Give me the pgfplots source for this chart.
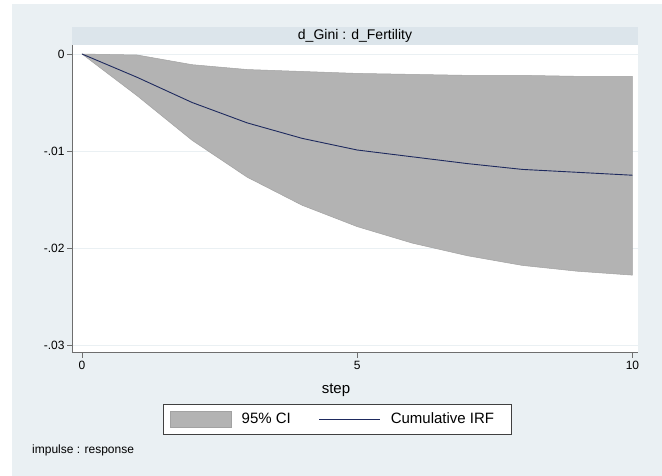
\documentclass[border=0pt]{standalone}
\usepackage{pgfplots}
\pgfplotsset{compat=1.18}
\usepackage{fontspec}
\setmainfont{Liberation Sans}
\definecolor{bg}{HTML}{EAF0F3}
\definecolor{band}{HTML}{DCE5EB}
\definecolor{cifill}{HTML}{B3B3B3}
\definecolor{cidraw}{HTML}{A2A2A2}
\definecolor{irfline}{HTML}{1E2A5E}
\definecolor{axgray}{HTML}{6E6E6E}
\begin{document}
\begin{tikzpicture}
\path[use as bounding box] (0pt,0pt) rectangle (662pt,476pt);
\fill[bg] (12pt,0pt) rectangle (662pt,472pt);
\fill[band] (72pt,431pt) rectangle (638pt,449pt);
\node[anchor=center] at (355pt,440pt) {\fontsize{14}{15}\selectfont d\_Gini : d\_Fertility};
\node[anchor=west, inner sep=0pt] at (32pt,26pt) {\fontsize{12}{13}\selectfont impulse : response};
\begin{axis}[
  at={(72pt,123.3pt)}, anchor=south west,
  scale only axis, width=566pt, height=307.7pt,
  axis background/.style={fill=white},
  axis x line*=bottom, axis y line*=left,
  axis line style={axgray, line width=0.7pt},
  xmin=-0.182, xmax=10.1,
  ymin=-0.0308, ymax=0.00093,
  scaled y ticks=false, scaled x ticks=false,
  xtick={0,5,10}, xticklabels={0,5,10},
  ytick={0,-0.01,-0.02,-0.03}, yticklabels={0,-.01,-.02,-.03},
  tick align=outside, major tick length=5pt,
  tick style={axgray, line width=0.6pt},
  ymajorgrids, grid style={bg, line width=0.6pt},
  ticklabel style={font=\fontsize{12}{13}\selectfont},
  yticklabel style={xshift=1pt},
  xlabel={step},
  xlabel style={at={(axis description cs:0.4664,-0.121)}, anchor=center, font=\fontsize{15}{16}\selectfont},
  legend columns=2,
  legend style={at={(axis description cs:0.161,-0.1667)}, anchor=north west,
    draw=black!75, fill=white, line width=0.6pt, inner xsep=6.7pt, inner ysep=6.5pt,
    font=\fontsize{15}{16}\selectfont,
    nodes={inner sep=0pt},
    /tikz/every odd column/.append style={column sep=10pt},
    /tikz/every even column/.append style={column sep=28pt}},
  legend cell align=left,
  clip=false,
]
\addplot[fill=cifill, draw=cidraw, line width=0.5pt,
  legend image code/.code={\fill[cifill, draw=cidraw, line width=0.6pt] (0pt,-8pt) rectangle (61pt,8pt);}]
  coordinates {
  (0,0) (1,-0.0001) (2,-0.0011) (3,-0.0016) (4,-0.0018) (5,-0.0020)
  (6,-0.0021) (7,-0.0022) (8,-0.0022) (9,-0.0023) (10,-0.0023)
  (10,-0.0228) (9,-0.0224) (8,-0.0218) (7,-0.0208) (6,-0.0195)
  (5,-0.0178) (4,-0.0156) (3,-0.0127) (2,-0.0089) (1,-0.0043) (0,0)
  } -- cycle;
\addlegendentry{95\% CI}
\addplot[irfline, line width=0.9pt,
  legend image code/.code={\draw[irfline, line width=0.9pt] (0pt,0pt) -- (61pt,0pt);}]
  coordinates {
  (0,0) (1,-0.0024) (2,-0.0050) (3,-0.0071) (4,-0.0087) (5,-0.0099)
  (6,-0.0106) (7,-0.0113) (8,-0.0119) (9,-0.0122) (10,-0.0125)
  };
\addlegendentry{Cumulative IRF\hspace*{10pt}}
\end{axis}
\end{tikzpicture}
\end{document}
